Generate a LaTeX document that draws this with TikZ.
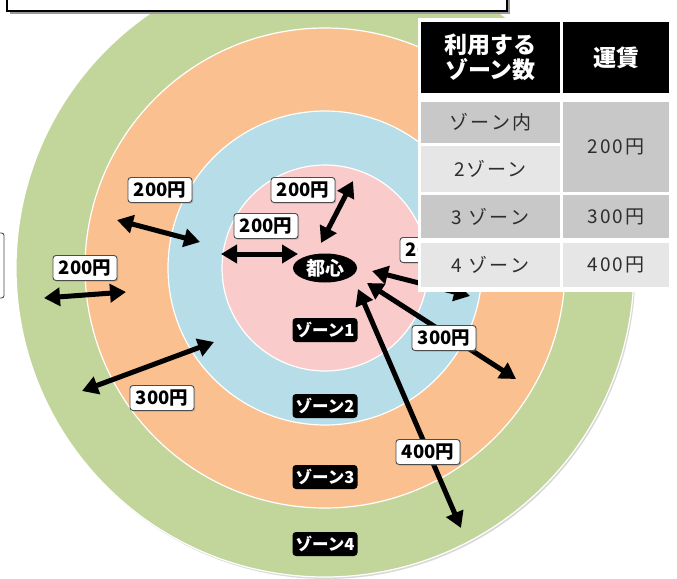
\documentclass[tikz,border=0pt]{standalone}
\usepackage{fontspec}
\newfontfamily\jp{Noto Sans CJK JP}
\newfontfamily\jpw[LetterSpace=11]{Noto Sans CJK JP}
\usetikzlibrary{arrows.meta,shapes.geometric,shadows,calc}
\definecolor{zgreen}{RGB}{194,214,155}
\definecolor{zorange}{RGB}{250,192,143}
\definecolor{zblue}{RGB}{183,221,232}
\definecolor{zpink}{RGB}{249,203,203}
\definecolor{cellA}{RGB}{200,200,200}
\definecolor{cellB}{RGB}{230,230,230}
\definecolor{celltext}{RGB}{45,45,45}
\begin{document}
\begin{tikzpicture}[x=1pt,y=-1pt,
 fare/.style={draw=black!70, fill=white, rounded corners=3pt, line width=0.9pt, inner sep=0pt,
   minimum width=64pt, minimum height=25pt, font=\jp\bfseries\fontsize{18.5}{20}\selectfont,
   drop shadow={shadow xshift=1.2pt, shadow yshift=-1.2pt, opacity=0.45}},
 zone/.style={fill=black, rounded corners=3.5pt, text=white, minimum width=65pt, minimum height=24pt,
   inner sep=0pt, font=\jp\bfseries\fontsize{16.5}{18}\selectfont},
 dbl/.style={line width=5pt, {Triangle[length=16pt,width=18pt]}-{Triangle[length=16pt,width=18pt]}},
 ring/.style={draw=white, line width=1.2pt},
 hcell/.style={fill=black, text=white, font=\jp\bfseries\fontsize{23}{25}\selectfont, align=center, inner sep=0pt},
 bcell/.style={text=celltext, font=\jpw\fontsize{19}{22}\selectfont, inner sep=0pt, align=center}]
\useasboundingbox (0,0) rectangle (677,578);
\clip (0,0) rectangle (677,578);
% rings
\coordinate (c) at (325,268);
\fill[black!15] ($(c)+(1.5,2)$) circle (309pt);
\filldraw[ring, fill=zgreen] (c) circle (309pt);
\filldraw[ring, fill=zorange] (c) circle (240pt);
\filldraw[ring, fill=zblue] (c) circle (157pt);
\filldraw[ring, fill=zpink] (c) circle (103pt);
% arrow end points
\coordinate (a1s) at (117,220); \coordinate (a1e) at (200,242);
\coordinate (a2s) at (44,298);  \coordinate (a2e) at (126,292);
\coordinate (a3s) at (221,254); \coordinate (a3e) at (298,254);
\coordinate (a4s) at (321,243); \coordinate (a4e) at (353,181);
\coordinate (a5s) at (372,271); \coordinate (a5e) at (470,296);
\coordinate (a6s) at (367,283); \coordinate (a6e) at (516,379);
\coordinate (a7s) at (358,289); \coordinate (a7e) at (461,528);
\coordinate (a8s) at (82,391);  \coordinate (a8e) at (214,342);
\draw[dbl] (a1s) -- (a1e);
\draw[dbl] (a2s) -- (a2e);
\draw[dbl] (a3s) -- (a3e);
\draw[dbl] (a4s) -- (a4e);
\draw[dbl] (a5s) -- (a5e);
\draw[dbl] (a6s) -- (a6e);
\draw[dbl] (a7s) -- (a7e);
\draw[dbl] (a8s) -- (a8e);
% fare labels
\node[fare] (f1) at (160,190) {200円};
\node[fare] (f2) at (85,268) {200円};
\node[fare] (f3) at (266,226) {200円};
\node[fare] (f4) at (303,190) {200円};
\node[fare] (f5) at (432,250) {200円};
\node[fare] (f6) at (444,338) {300円};
\node[fare] (f7) at (428,452) {400円};
\node[fare] (f8) at (162,398) {300円};
% centre and zone labels
\node[ellipse, fill=black, text=white, minimum width=64pt, minimum height=29pt, inner sep=0pt,
  font=\jp\bfseries\fontsize{19}{21}\selectfont] (toshin) at (c) {都心};
\node[zone] (z1) at (325,330) {ゾーン1};
\node[zone] (z2) at (325,406) {ゾーン2};
\node[zone] (z3) at (325,477) {ゾーン3};
\node[zone] (z4) at (325,544) {ゾーン4};
% partial box at left edge
\node[draw=black!70, fill=white, rounded corners=2.5pt, line width=0.9pt, minimum width=30pt,
  minimum height=65pt] (lbox) at (-11,265.5) {};
% table
\fill[white] (418,18) rectangle (677,292);
\node[hcell, minimum width=139pt, minimum height=71pt] (h1) at (490.5,57.5) {利用する\\ゾーン数};
\node[hcell, minimum width=106pt, minimum height=71pt] (h2) at (616,57.5) {運賃};
\node[bcell, fill=cellA, minimum width=139pt, minimum height=41pt] (r1a) at (490.5,122.5) {ゾーン内};
\node[bcell, fill=cellB, minimum width=139pt, minimum height=46pt] (r2a) at (490.5,169) {2ゾーン};
\node[bcell, fill=cellA, minimum width=106pt, minimum height=90pt] (r12b) at (616,147) {200円};
\node[bcell, fill=cellA, minimum width=139pt, minimum height=43pt] (r3a) at (490.5,216.5) {3 ゾーン};
\node[bcell, fill=cellA, minimum width=106pt, minimum height=43pt] (r3b) at (616,216.5) {300円};
\node[bcell, fill=cellB, minimum width=139pt, minimum height=44pt] (r4a) at (490.5,265) {4 ゾーン};
\node[bcell, fill=cellB, minimum width=106pt, minimum height=44pt] (r4b) at (616,265) {400円};
% top box
\fill[black!40] (10,-10) rectangle (510,14);
\node[draw=black, fill=white, line width=1.2pt, minimum width=500pt, minimum height=22pt, inner sep=0pt] (topbox) at (257,0) {};
\end{tikzpicture}
\end{document}
